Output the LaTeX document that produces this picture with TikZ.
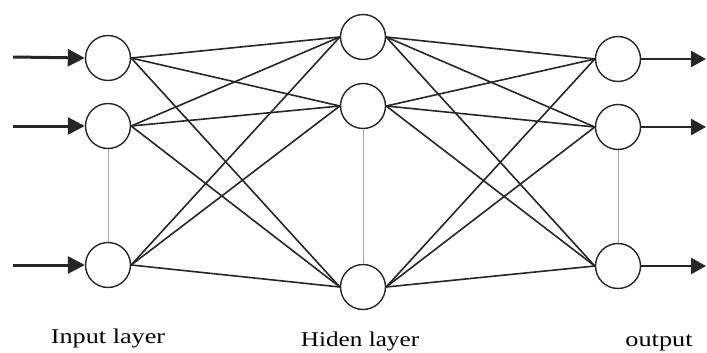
\documentclass[tikz,border=0pt]{standalone}
\usepackage{fontspec}
\setmainfont{Liberation Serif}
\usetikzlibrary{arrows.meta}
\begin{document}
\begin{tikzpicture}[x=1pt,y=-1pt,
  neuron/.style={circle,draw=black!85,line width=1.4pt,minimum size=45pt,inner sep=0pt,fill=white},
  link/.style={draw=black!85,line width=1.6pt},
  sep/.style={draw=black!35,line width=1pt},
  inarrow/.style={draw=black!85,line width=3pt,-{Triangle[length=17pt,width=17pt]}},
  outarrow/.style={draw=black!85,line width=2.5pt,-{Triangle[length=15pt,width=16pt]}},
  lbl/.style={font=\fontsize{21}{24}\selectfont,anchor=base,inner sep=0pt}]
\useasboundingbox (0,0) rectangle (707,353);
% nodes
\node[neuron] (i1) at (108,58) {};
\node[neuron] (i2) at (108,126) {};
\node[neuron] (i3) at (108,265) {};
\node[neuron] (h1) at (363,37) {};
\node[neuron] (h2) at (363,106) {};
\node[neuron] (h3) at (363,287) {};
\node[neuron] (o1) at (618,59) {};
\node[neuron] (o2) at (618,127) {};
\node[neuron] (o3) at (618,266) {};
% separators
\draw[sep] (i2) -- (i3);
\draw[sep] (h2) -- (h3);
\draw[sep] (o2) -- (o3);
% connections
\foreach \a in {i1,i2,i3}{
  \foreach \b in {h1,h2,h3}{
    \draw[link] (\a.east) -- (\b.west);
  }
}
\foreach \a in {h1,h2,h3}{
  \foreach \b in {o1,o2,o3}{
    \draw[link] (\a.east) -- (\b.west);
  }
}
% input arrows
\coordinate (s1) at (13,57);
\coordinate (s2) at (13,126);
\coordinate (s3) at (13,265);
\draw[inarrow] (s1) -- (i1.west);
\draw[inarrow] (s2) -- (i2.west);
\draw[inarrow] (s3) -- (i3.west);
% output arrows
\coordinate (e1) at (706,59);
\coordinate (e2) at (706,127);
\coordinate (e3) at (706,266);
\draw[outarrow] (o1.east) -- (e1);
\draw[outarrow] (o2.east) -- (e2);
\draw[outarrow] (o3.east) -- (e3);
% labels
\node[lbl] (li) at (108,343) {\scalebox{1.25}[1]{Input layer}};
\node[lbl] (lh) at (360,346) {\scalebox{1.2}[1]{Hiden layer}};
\node[lbl] (lo) at (659,346) {\scalebox{1.25}[1]{output}};
\end{tikzpicture}
\end{document}
